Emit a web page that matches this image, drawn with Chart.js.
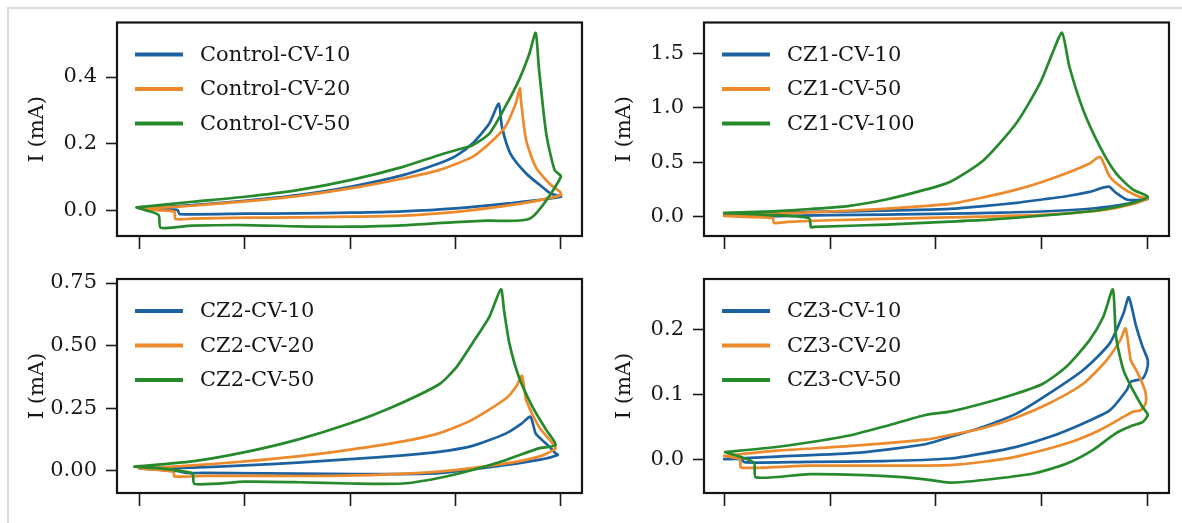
<!DOCTYPE html>
<html>
<head>
<meta charset="utf-8">
<script src="https://cdn.jsdelivr.net/npm/chart.js@4.4.1/dist/chart.umd.min.js"></script>
<style>
  html, body { margin: 0; padding: 0; background: #fff; }
  #fig { position: relative; width: 1182px; height: 523px; overflow: hidden; background: #fff; }
  #fig canvas { position: absolute; left: 0; top: 0; }
  .edge { position: absolute; background: #dadada; }
</style>
</head>
<body>
<div id="fig">
  <div class="edge" style="left:7px;top:7px;width:1175px;height:2px"></div>
  <div class="edge" style="left:7px;top:7px;width:2px;height:516px"></div>
  <canvas id="cvControl" width="1182" height="523"></canvas>
  <canvas id="cvCZ1" width="1182" height="523"></canvas>
  <canvas id="cvCZ2" width="1182" height="523"></canvas>
  <canvas id="cvCZ3" width="1182" height="523"></canvas>
</div>
<script>
// ---------- data: potential E (V) and current I (mA), one loop per scan ----------
const xTickValues = [0, 0.2, 0.4, 0.6, 0.8];

// Control
const controlLabels = ['Control-CV-10', 'Control-CV-20', 'Control-CV-50'];
const controlYTicks = [0, 0.2, 0.4];
const controlYTickLabels = ['0.0', '0.2', '0.4'];
const control10E = [0, 0.1, 0.2, 0.3, 0.4, 0.5, 0.568, 0.6, 0.632, 0.664, 0.682,
  0.688, 0.704, 0.734, 0.764, 0.78, 0.8,
  0.7, 0.6, 0.5, 0.4, 0.3, 0.2, 0.076, 0.072, 0.03, 0];
const control10I = [0.005, 0.015, 0.028, 0.045, 0.07, 0.105, 0.14, 0.162, 0.2, 0.26, 0.32,
  0.25, 0.17, 0.11, 0.07, 0.05, 0.04,
  0.02, 0.005, -0.004, -0.008, -0.01, -0.011, -0.012, 0.0, 0.003, 0.005];
const control20E = [0, 0.1, 0.2, 0.3, 0.4, 0.5, 0.568, 0.632, 0.664, 0.694, 0.714, 0.722,
  0.724, 0.734, 0.752, 0.778, 0.798, 0.8,
  0.726, 0.632, 0.568, 0.5, 0.4, 0.3, 0.2, 0.1, 0.068, 0.066, 0.03, 0];
const control20I = [0.004, 0.013, 0.026, 0.042, 0.065, 0.095, 0.12, 0.16, 0.2, 0.25, 0.32, 0.366,
  0.33, 0.21, 0.13, 0.08, 0.055, 0.045,
  0.02, 0.0, -0.01, -0.017, -0.02, -0.022, -0.023, -0.026, -0.027, -0.005, 0.0, 0.004];
const control50E = [-0.006, 0.1, 0.2, 0.3, 0.4, 0.5, 0.568, 0.6, 0.632, 0.664, 0.694, 0.72, 0.74, 0.752,
  0.758, 0.772, 0.788, 0.8,
  0.742, 0.66, 0.6, 0.5, 0.4, 0.3, 0.2, 0.1, 0.04, 0.036, 0.01, -0.006];
const control50I = [0.008, 0.025, 0.04, 0.06, 0.09, 0.13, 0.165, 0.18, 0.195, 0.23, 0.31, 0.39, 0.47, 0.533,
  0.43, 0.23, 0.12, 0.10,
  -0.025, -0.032, -0.036, -0.046, -0.05, -0.049, -0.045, -0.047, -0.053, -0.015, 0.0, 0.008];

// CZ1
const cz1Labels = ['CZ1-CV-10', 'CZ1-CV-50', 'CZ1-CV-100'];
const cz1YTicks = [0, 0.5, 1.0, 1.5];
const cz1YTickLabels = ['0.0', '0.5', '1.0', '1.5'];
const cz1a10E = [0, 0.1, 0.234, 0.32, 0.426, 0.49, 0.552, 0.6, 0.646, 0.69, 0.726,
  0.74, 0.76, 0.78, 0.8,
  0.76, 0.7, 0.6, 0.5, 0.426, 0.3, 0.2, 0.1, 0.05, 0.046, 0];
const cz1a10I = [0.03, 0.04, 0.052, 0.06, 0.075, 0.1, 0.13, 0.16, 0.19, 0.23, 0.277,
  0.22, 0.16, 0.155, 0.165,
  0.12, 0.08, 0.05, 0.038, 0.03, 0.022, 0.017, 0.008, 0.005, 0.025, 0.03];
const cz1a50E = [0, 0.1, 0.2, 0.3, 0.426, 0.49, 0.552, 0.6, 0.646, 0.69, 0.71,
  0.728, 0.754, 0.784, 0.8,
  0.772, 0.71, 0.6, 0.426, 0.3, 0.2, 0.12, 0.094, 0.092, 0.04, 0];
const cz1a50I = [0.01, 0.03, 0.05, 0.075, 0.12, 0.18, 0.25, 0.32, 0.40, 0.49, 0.55,
  0.37, 0.26, 0.186, 0.17,
  0.12, 0.06, 0.02, -0.003, -0.018, -0.03, -0.045, -0.055, -0.01, 0.0, 0.01];
const cz1a100E = [0, 0.09, 0.162, 0.234, 0.306, 0.38, 0.426, 0.49, 0.552, 0.596, 0.62, 0.638,
  0.652, 0.678, 0.71, 0.74, 0.772, 0.8,
  0.772, 0.71, 0.616, 0.5, 0.426, 0.306, 0.17, 0.164, 0.16, 0.08, 0];
const cz1a100I = [0.037, 0.052, 0.073, 0.10, 0.16, 0.25, 0.32, 0.52, 0.86, 1.22, 1.5, 1.686,
  1.375, 0.98, 0.64, 0.40, 0.25, 0.186,
  0.128, 0.064, 0.018, -0.025, -0.043, -0.07, -0.09, -0.095, -0.01, 0.02, 0.037];

// CZ2
const cz2Labels = ['CZ2-CV-10', 'CZ2-CV-20', 'CZ2-CV-50'];
const cz2YTicks = [0, 0.25, 0.5, 0.75];
const cz2YTickLabels = ['0.00', '0.25', '0.50', '0.75'];
const cz2a10E = [0, 0.1, 0.2, 0.3, 0.4, 0.5, 0.568, 0.632, 0.696, 0.726, 0.742,
  0.752, 0.764, 0.778, 0.79, 0.794,
  0.758, 0.696, 0.568, 0.46, 0.36, 0.24, 0.12, 0.09, 0.07, 0];
const cz2a10I = [0.01, 0.013, 0.022, 0.033, 0.047, 0.062, 0.076, 0.1, 0.15, 0.19, 0.217,
  0.15, 0.124, 0.097, 0.07, 0.064,
  0.044, 0.024, -0.009, -0.013, -0.012, -0.01, -0.008, -0.008, 0.0, 0.01];
const cz2a20E = [0, 0.1, 0.2, 0.3, 0.4, 0.5, 0.568, 0.632, 0.696, 0.716, 0.726,
  0.734, 0.758, 0.784, 0.79,
  0.758, 0.696, 0.568, 0.46, 0.36, 0.24, 0.12, 0.066, 0.064, 0];
const cz2a20I = [0.01, 0.022, 0.038, 0.058, 0.085, 0.118, 0.15, 0.205, 0.29, 0.34, 0.38,
  0.283, 0.177, 0.11, 0.09,
  0.057, 0.03, -0.003, -0.015, -0.02, -0.02, -0.02, -0.022, -0.003, 0.01];
const cz2a50E = [-0.01, 0.1, 0.2, 0.3, 0.4, 0.48, 0.568, 0.6, 0.632, 0.664, 0.686,
  0.692, 0.702, 0.72, 0.746, 0.772, 0.79,
  0.758, 0.696, 0.632, 0.568, 0.5, 0.4, 0.3, 0.2, 0.104, 0.1, 0.04, -0.01];
const cz2a50I = [0.017, 0.038, 0.075, 0.125, 0.19, 0.255, 0.345, 0.41, 0.51, 0.615, 0.725,
  0.64, 0.51, 0.376, 0.256, 0.164, 0.104,
  0.09, 0.044, 0.004, -0.028, -0.05, -0.05, -0.045, -0.043, -0.052, -0.01, 0.01, 0.017];

// CZ3
const cz3Labels = ['CZ3-CV-10', 'CZ3-CV-20', 'CZ3-CV-50'];
const cz3YTicks = [0, 0.1, 0.2];
const cz3YTickLabels = ['0.0', '0.1', '0.2'];
const cz3a10E = [0, 0.1, 0.256, 0.38, 0.426, 0.49, 0.552, 0.614, 0.678, 0.728, 0.754, 0.764,
  0.778, 0.79, 0.8, 0.798, 0.79, 0.768,
  0.76, 0.728, 0.678, 0.614, 0.552, 0.49, 0.426, 0.3, 0.16, 0.04, 0.03, 0];
const cz3a10I = [0.0, 0.004, 0.01, 0.023, 0.034, 0.05, 0.07, 0.101, 0.137, 0.178, 0.224, 0.249,
  0.204, 0.173, 0.152, 0.137, 0.124, 0.119,
  0.106, 0.075, 0.055, 0.034, 0.019, 0.009, 0.001, -0.003, -0.004, -0.005, 0.0, 0.0];
const cz3a20E = [0, 0.1, 0.234, 0.38, 0.426, 0.49, 0.552, 0.614, 0.678, 0.722, 0.748, 0.758,
  0.768, 0.778, 0.79, 0.796, 0.796, 0.786, 0.772,
  0.754, 0.71, 0.646, 0.552, 0.49, 0.426, 0.3, 0.16, 0.032, 0.03, 0];
const cz3a20I = [0.005, 0.013, 0.02, 0.03, 0.037, 0.048, 0.064, 0.086, 0.116, 0.152, 0.183, 0.201,
  0.152, 0.137, 0.116, 0.101, 0.086, 0.075, 0.073,
  0.065, 0.045, 0.024, 0.004, -0.004, -0.009, -0.01, -0.01, -0.013, 0.0, 0.005];
const cz3a50E = [0.002, 0.09, 0.162, 0.234, 0.306, 0.38, 0.426, 0.49, 0.552, 0.602, 0.646, 0.69, 0.716, 0.734,
  0.74, 0.754, 0.772, 0.79, 0.8, 0.79, 0.772, 0.74,
  0.696, 0.646, 0.584, 0.49, 0.426, 0.38, 0.306, 0.162, 0.06, 0.056, 0.002];
const cz3a50I = [0.011, 0.018, 0.026, 0.036, 0.051, 0.068, 0.073, 0.086, 0.101, 0.116, 0.142, 0.183, 0.219, 0.261,
  0.188, 0.137, 0.106, 0.08, 0.068, 0.057, 0.052, 0.04,
  0.014, -0.007, -0.022, -0.032, -0.036, -0.031, -0.026, -0.023, -0.028, -0.005, 0.011];

// ---------- styling ----------
const seriesColors = ['#1d62a0', '#ec8a2c', '#268a2c'];
const textColor = '#161616';
const fontFamily = '"DejaVu Serif", serif';

Chart.defaults.font.family = fontFamily;
Chart.defaults.font.size = 21;
Chart.defaults.color = textColor;

function toPoints(E, I) {
  return E.map((e, k) => ({ x: e, y: I[k] }));
}

// closed frame around the plot area plus an in-plot key
const frameAndKey = {
  id: 'frameAndKey',
  afterDatasetsDraw(chart) {
    const { ctx, chartArea: a } = chart;
    ctx.save();
    ctx.strokeStyle = '#141414';
    ctx.lineWidth = 2.2;
    ctx.strokeRect(a.left, a.top, a.right - a.left, a.bottom - a.top);
    ctx.font = '21px ' + fontFamily;
    ctx.textBaseline = 'middle';
    ctx.textAlign = 'left';
    chart.data.datasets.forEach((ds, i) => {
      const y = a.top + 32 + i * 34.5;
      ctx.strokeStyle = ds.borderColor;
      ctx.lineWidth = 4;
      ctx.lineCap = 'butt';
      ctx.beginPath();
      ctx.moveTo(a.left + 18, y);
      ctx.lineTo(a.left + 66, y);
      ctx.stroke();
      ctx.fillStyle = textColor;
      ctx.fillText(ds.label, a.left + 83, y + 1);
    });
    ctx.restore();
  }
};

function makePanel(canvasId, labels, series, yMin, yMax, yTicks, yTickLabels, xMin, xMax, pad) {
  const datasets = series.map((s, i) => ({
    label: labels[i],
    data: toPoints(s[0], s[1]),
    showLine: true,
    borderColor: seriesColors[i],
    backgroundColor: seriesColors[i],
    borderWidth: 2.7,
    pointRadius: 0,
    tension: 0.22,
    fill: false,
    borderJoinStyle: 'round',
    borderCapStyle: 'round',
    order: series.length - i
  }));
  return new Chart(document.getElementById(canvasId), {
    type: 'scatter',
    data: { datasets },
    options: {
      responsive: false,
      animation: false,
      devicePixelRatio: 1,
      layout: { padding: pad },
      plugins: { legend: { display: false }, tooltip: { enabled: false } },
      events: [],
      scales: {
        x: {
          type: 'linear',
          min: xMin,
          max: xMax,
          afterBuildTicks: (sc) => { sc.ticks = xTickValues.map(v => ({ value: v })); },
          afterFit: (sc) => { sc.height = 20; },
          ticks: { display: false },
          grid: { drawOnChartArea: false, drawTicks: true, tickLength: 13, tickWidth: 1.6, tickColor: '#1a1a1a' },
          border: { display: false }
        },
        y: {
          type: 'linear',
          min: yMin,
          max: yMax,
          afterBuildTicks: (sc) => { sc.ticks = yTicks.map(v => ({ value: v })); },
          afterFit: (sc) => { sc.width = 117; },
          ticks: {
            padding: 9,
            color: textColor,
            font: { size: 21 },
            callback: (v, idx) => yTickLabels[idx]
          },
          grid: { drawOnChartArea: false, drawTicks: true, tickLength: 11, tickWidth: 1.6, tickColor: '#1a1a1a' },
          border: { display: false },
          title: {
            display: true,
            text: 'I (mA)',
            color: textColor,
            font: { size: 21 },
            padding: { top: 25, bottom: 0 }
          }
        }
      }
    },
    plugins: [frameAndKey]
  });
}

makePanel('cvControl', controlLabels,
  [[control10E, control10I], [control20E, control20I], [control50E, control50I]],
  -0.078, 0.564, controlYTicks, controlYTickLabels, -0.043, 0.84,
  { left: 0, top: 22.5, right: 600, bottom: 267 });

makePanel('cvCZ1', cz1Labels,
  [[cz1a10E, cz1a10I], [cz1a50E, cz1a50I], [cz1a100E, cz1a100I]],
  -0.174, 1.78, cz1YTicks, cz1YTickLabels, -0.038, 0.84,
  { left: 587, top: 22.5, right: 13, bottom: 267 });

makePanel('cvCZ2', cz2Labels,
  [[cz2a10E, cz2a10I], [cz2a20E, cz2a20I], [cz2a50E, cz2a50I]],
  -0.088, 0.766, cz2YTicks, cz2YTickLabels, -0.043, 0.84,
  { left: 0, top: 279, right: 600, bottom: 10 });

makePanel('cvCZ3', cz3Labels,
  [[cz3a10E, cz3a10I], [cz3a20E, cz3a20I], [cz3a50E, cz3a50I]],
  -0.052, 0.277, cz3YTicks, cz3YTickLabels, -0.038, 0.84,
  { left: 587, top: 279, right: 13, bottom: 10 });
</script>
</body>
</html>
